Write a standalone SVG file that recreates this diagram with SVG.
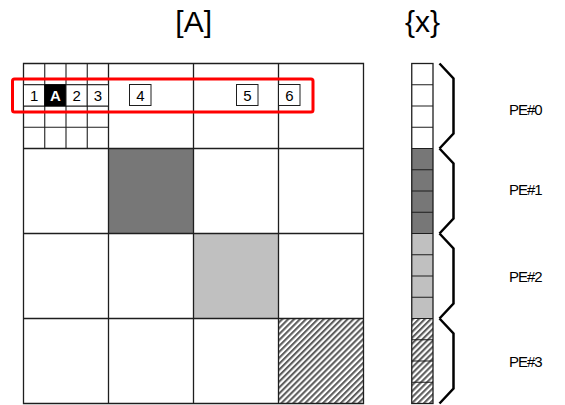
<svg xmlns="http://www.w3.org/2000/svg" width="565" height="405" viewBox="0 0 565 405">
  <defs>
    <pattern id="hatch" patternUnits="userSpaceOnUse" width="4.2" height="4.2" patternTransform="rotate(45)">
      <rect width="4.2" height="4.2" fill="#ffffff"/>
      <rect x="0" y="0" width="2.1" height="4.2" fill="#5e5e5e"/>
    </pattern>
  </defs>
  <style>
    .grid { stroke: #1e1e1e; stroke-width: 1.3; fill: none; }
    .thin { stroke: #1e1e1e; stroke-width: 1.1; fill: none; }
    .dark { fill: #777777; }
    .light { fill: #c0c0c0; }
    .hatch { fill: url(#hatch); }
    .box { fill: #ffffff; stroke: #1e1e1e; stroke-width: 1; }
    .num { font-family: "Liberation Sans", Arial, sans-serif; font-size: 15px; fill: #000000; text-anchor: middle; }
    .title { font-family: "Liberation Sans", Arial, sans-serif; font-size: 30px; fill: #000000; text-anchor: middle; }
    .pe { font-family: "Liberation Sans", Arial, sans-serif; font-size: 15px; fill: #000000; letter-spacing: -1px; }
    .brace { stroke: #000000; stroke-width: 2.5; fill: none; stroke-linejoin: miter; }
  </style>
  <rect width="565" height="405" fill="#ffffff"/>

  <!-- titles -->
  <text class="title" x="193.7" y="32">[A]</text>
  <text class="title" x="422.5" y="32">{x}</text>

  <!-- matrix [A] -->
  <g id="matrix">
    <rect class="dark" x="108.5" y="148.5" width="85" height="85"/>
    <rect class="light" x="193.5" y="233.5" width="85" height="85"/>
    <rect class="hatch" x="278.5" y="318.5" width="85" height="85"/>
    <!-- sub-blocks of the first block -->
    <path class="thin" d="M44.75 63.5V148.5M66 63.5V148.5M87.25 63.5V148.5M23.5 84.75H108.5M23.5 106H108.5M23.5 127.25H108.5"/>
    <!-- block grid -->
    <path class="grid" d="M23.5 63.5H363.5V403.5H23.5Z M108.5 63.5V403.5M193.5 63.5V403.5M278.5 63.5V403.5M23.5 148.5H363.5M23.5 233.5H363.5M23.5 318.5H363.5"/>
  </g>

  <!-- numbered entries of one row -->
  <g id="row-entries">
    <rect class="box" x="23.5" y="84.75" width="21.25" height="21.25"/>
    <text class="num" x="34.1" y="101">1</text>
    <rect x="44.75" y="84.75" width="21.25" height="21.25" fill="#000000" stroke="#000000"/>
    <text class="num" x="55.4" y="101" style="fill:#ffffff;font-weight:bold">A</text>
    <rect class="box" x="66" y="84.75" width="21.25" height="21.25"/>
    <text class="num" x="76.6" y="101">2</text>
    <rect class="box" x="87.25" y="84.75" width="21.25" height="21.25"/>
    <text class="num" x="97.9" y="101">3</text>
    <rect class="box" x="129.5" y="84.5" width="21.5" height="21"/>
    <text class="num" x="140.3" y="101">4</text>
    <rect class="box" x="236.5" y="84.5" width="21.5" height="21"/>
    <text class="num" x="247.3" y="101">5</text>
    <rect class="box" x="278.5" y="84.5" width="21.5" height="21"/>
    <text class="num" x="289.3" y="101">6</text>
  </g>

  <!-- highlight of the row -->
  <rect id="row-highlight" x="12.5" y="79" width="300.5" height="33" rx="2" fill="none" stroke="#ff0000" stroke-width="3"/>

  <!-- vector {x} -->
  <g id="vector">
    <rect class="dark" x="411.75" y="148.5" width="21.25" height="85"/>
    <rect class="light" x="411.75" y="233.5" width="21.25" height="85"/>
    <rect class="hatch" x="411.75" y="318.5" width="21.25" height="85"/>
    <path class="thin" d="M411.75 84.75H433M411.75 106H433M411.75 127.25H433M411.75 148.5H433M411.75 169.75H433M411.75 191H433M411.75 212.25H433M411.75 233.5H433M411.75 254.75H433M411.75 276H433M411.75 297.25H433M411.75 318.5H433M411.75 339.75H433M411.75 361H433M411.75 382.25H433"/>
    <rect class="grid" x="411.75" y="63.5" width="21.25" height="340"/>
  </g>

  <!-- braces grouping the vector per PE -->
  <g id="braces">
    <polyline class="brace" points="439.5,63.5 453.5,78.5 453.5,133.5 439.5,148.5"/>
    <polyline class="brace" points="439.5,148.5 453.5,163.5 453.5,218.5 439.5,233.5"/>
    <polyline class="brace" points="439.5,233.5 453.5,248.5 453.5,303.5 439.5,318.5"/>
    <polyline class="brace" points="439.5,318.5 453.5,333.5 453.5,388.5 439.5,403.5"/>
  </g>

  <g id="pe-labels">
    <text class="pe" x="509" y="115">PE#0</text>
    <text class="pe" x="509" y="195">PE#1</text>
    <text class="pe" x="509" y="281.5">PE#2</text>
    <text class="pe" x="509" y="366.5">PE#3</text>
  </g>
</svg>
